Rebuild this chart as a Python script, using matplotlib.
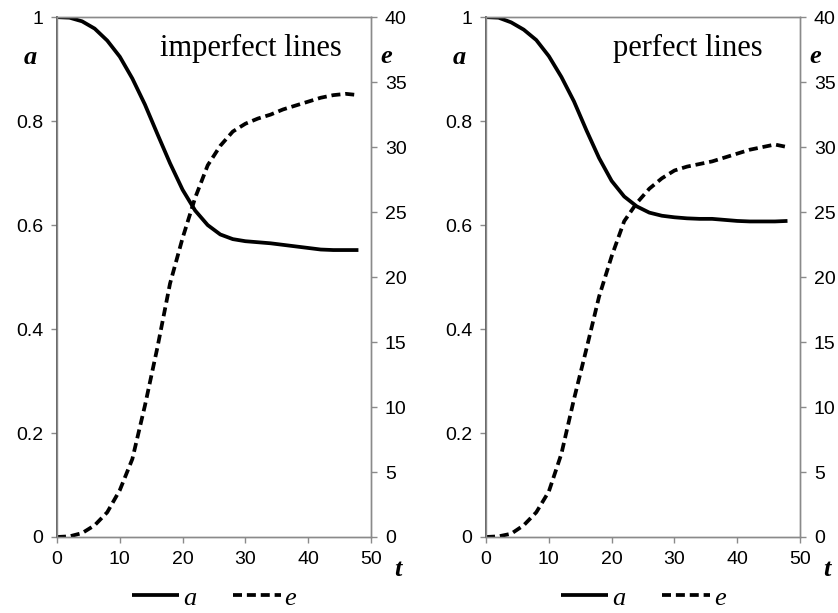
import matplotlib
matplotlib.use("Agg")
import matplotlib.pyplot as plt

# time steps
t = [0, 2, 4, 6, 8, 10, 12, 14, 16, 18, 20, 22, 24, 26, 28, 30, 32, 34, 36, 38, 40, 42, 44, 46, 48]

# imperfect lines
a_imperfect = [1.000, 0.999, 0.992, 0.978, 0.955, 0.924, 0.882, 0.832, 0.775, 0.719, 0.668, 0.628, 0.600,
               0.582, 0.573, 0.569, 0.567, 0.565, 0.562, 0.559, 0.556, 0.553, 0.552, 0.552, 0.552]
e_imperfect = [0.0, 0.05, 0.3, 0.9, 1.9, 3.6, 6.0, 10.1, 14.6, 19.5, 23.0, 26.1, 28.6,
               30.1, 31.2, 31.8, 32.2, 32.5, 32.9, 33.2, 33.5, 33.8, 34.0, 34.1, 34.0]

# perfect lines
a_perfect = [1.000, 0.999, 0.990, 0.976, 0.956, 0.925, 0.885, 0.838, 0.782, 0.729, 0.685, 0.655, 0.636,
             0.624, 0.618, 0.615, 0.613, 0.612, 0.612, 0.610, 0.608, 0.607, 0.607, 0.607, 0.608]
e_perfect = [0.0, 0.05, 0.25, 0.9, 1.9, 3.5, 6.4, 10.6, 14.5, 18.5, 21.6, 24.3, 25.7,
             26.8, 27.6, 28.2, 28.5, 28.7, 28.9, 29.2, 29.5, 29.8, 30.0, 30.2, 30.0]

panels = [("imperfect lines", a_imperfect, e_imperfect, 0.068, 0.618),
          ("perfect lines", a_perfect, e_perfect, 0.580, 0.643)]

tick_font = "Liberation Sans"
serif = "Liberation Serif"
spine_col = "#8a8a8a"
dash = (0, (2.4, 1.3))

fig = plt.figure(figsize=(8.38, 6.13), dpi=100)

for title, a_vals, e_vals, left, title_x in panels:
    ax = fig.add_axes([left, 0.124, 0.3747, 0.848])
    ax2 = ax.twinx()

    la, = ax.plot(t, a_vals, color="black", lw=2.7, solid_capstyle="butt")
    le, = ax2.plot(t, e_vals, color="black", lw=2.7, linestyle=dash, dash_capstyle="butt")

    ax.set_xlim(0, 50)
    ax.set_ylim(0, 1)
    ax2.set_ylim(0, 40)
    ax.set_xticks(range(0, 51, 10))
    ax.set_yticks([0, 0.2, 0.4, 0.6, 0.8, 1.0])
    ax.set_yticklabels(["0", "0.2", "0.4", "0.6", "0.8", "1"])
    ax2.set_yticks(range(0, 41, 5))

    for axis in (ax, ax2):
        for s in axis.spines.values():
            s.set_color(spine_col)
            s.set_linewidth(1.0)
        axis.tick_params(length=4, width=1.0, color=spine_col, labelsize=14, pad=6)
        for lab in axis.get_xticklabels() + axis.get_yticklabels():
            lab.set_fontfamily(tick_font)
    ax.spines["left"].set_color("#555555")
    ax.spines["left"].set_linewidth(1.3)

    ax.text(title_x, 0.94, title, transform=ax.transAxes, ha="center", va="center",
            fontsize=22, family=serif)
    ax.text(-0.086, 0.923, "a", transform=ax.transAxes, ha="center", va="center",
            fontsize=19, family=serif, style="italic", weight="bold")
    ax.text(1.03, 0.925, "e", transform=ax.transAxes, ha="left", va="center",
            fontsize=19, family=serif, style="italic", weight="bold")
    ax.text(1.086, -0.063, "t", transform=ax.transAxes, ha="center", va="center",
            fontsize=19, family=serif, style="italic", weight="bold")

    leg = ax.legend([la, le], ["a", "e"], loc="center", bbox_to_anchor=(0.5, -0.117),
                    ncol=2, frameon=False, handlelength=1.8, handletextpad=0.15,
                    columnspacing=1.4, prop={"family": serif, "style": "italic", "size": 19})

fig.savefig("out.png", dpi=100)
